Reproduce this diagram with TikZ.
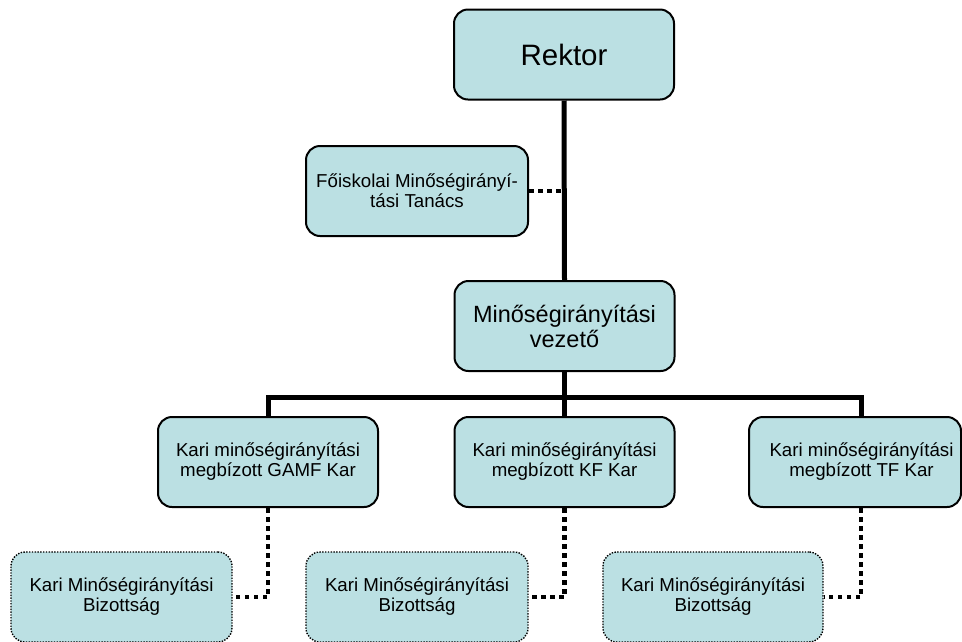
\documentclass[tikz,border=0pt]{standalone}
\usepackage{fontspec}
\setmainfont{Liberation Sans}
\definecolor{boxfill}{RGB}{187,224,227}
\tikzset{
  orgbox/.style={draw=black, line width=2pt, fill=boxfill, rounded corners=14pt,
    minimum width=220pt, minimum height=90pt, align=center, inner sep=0pt},
  dotbox/.style={orgbox, line width=1.4pt, dash pattern=on 1.4pt off 1.4pt},
  smalltext/.style={font=\fontsize{18.7}{20}\selectfont},
  solidcon/.style={line width=5pt, line join=miter},
  dotcon/.style={line width=4.5pt, dash pattern=on 4.5pt off 4.5pt}
}
\begin{document}
\begin{tikzpicture}[x=1pt,y=-1pt]
\useasboundingbox (0,0) rectangle (962,641);
\clip (0,0) rectangle (962,641);
\node[orgbox, font=\fontsize{29.5}{34}\selectfont] (rektor) at (564,54.5) {Rektor};
\node[orgbox, smalltext, minimum width=222pt] (fo) at (417,191) {Főiskolai Minőségirányí-\\tási Tanács};
\node[orgbox, font=\fontsize{23.5}{25}\selectfont] (vez) at (564.5,326) {Minőségirányítási\\vezető};
\node[orgbox, smalltext] (gamf) at (268,462) {Kari minőségirányítási\\megbízott GAMF Kar};
\node[orgbox, smalltext] (kf) at (564.5,462) {Kari minőségirányítási\\megbízott KF Kar};
\node[orgbox, smalltext, minimum width=212pt] (tf) at (855,462)
  {\begin{tabular}{@{\hspace{13pt}}c@{}}Kari minőségirányítási\\megbízott TF Kar\end{tabular}};
\node[dotbox, smalltext, minimum width=221pt] (kb1) at (121.5,597) {Kari Minőségirányítási\\Bizottság};
\node[dotbox, smalltext, minimum width=222pt] (kb2) at (417,597) {Kari Minőségirányítási\\Bizottság};
\node[dotbox, smalltext] (kb3) at (713,597) {Kari Minőségirányítási\\Bizottság};
\coordinate (bus) at (564.5,397);
\coordinate (busr) at (861,397);
\draw[solidcon] (rektor.south) -- (vez.north);
\draw[dotcon] (fo.east) -- (fo.east -| rektor.south);
\draw[solidcon] (vez.south) -- (bus);
\draw[solidcon] (gamf.north) |- (bus) -- (busr) -- (busr |- tf.north);
\draw[solidcon] (kf.north) -- (bus);
\draw[dotcon] (gamf.south) |- (kb1.east);
\draw[dotcon] (kf.south) |- (kb2.east);
\draw[dotcon] (busr |- tf.south) |- (kb3.east);
\end{tikzpicture}
\end{document}
